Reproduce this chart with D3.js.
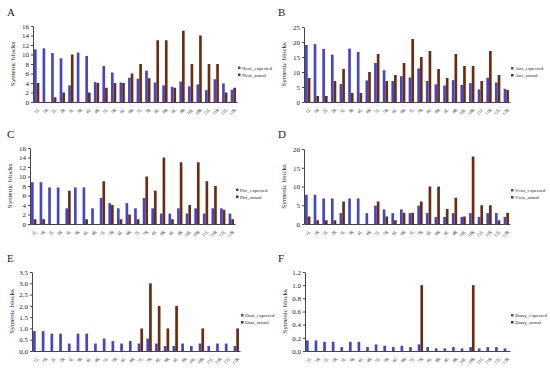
<!DOCTYPE html>
<html>
<head>
<meta charset="utf-8">
<script src="https://cdn.jsdelivr.net/npm/d3@7"></script>
<style>
  body { margin: 0; background: #fff; }
  text { font-family: "Liberation Serif", "Times New Roman", serif; fill: #222; }
</style>
</head>
<body>
<div id="chart"></div>
<script>
const categories = ['1L','1R','2L','2R','3L','3R','4L','4R','5L','5R','6L','6R',
  '7L','7R','8L','8R','9L','9R','10L','10R','11L','11R','12L','12R']

const ncolExpected = [11.1,11.3,10.3,9.2,3.5,10.4,9.7,4.2,7.6,6.2,4.1,5.1,4.9,6.6,4.1,3.5,3.2,4.3,3.3,3.7,2.5,4.8,3.9,2.6]
const ncolActual = [4,0,1,2,10,0,2,4,3,4,4,6,8,5,13,13,3,15,8,14,8,8,2,3]
const ncolTicks = [0,2,4,6,8,10,12,14,16]

const atriExpected = [19,19.3,17.7,15.8,6,17.8,16.7,7.2,13,10.6,7,8.6,8.2,11.2,7,5.9,5.5,7.3,5.7,6.3,4.2,8.1,6.5,4.4]
const atriActual = [8,2,2,7,11,3,3,10,16,7,9,13,21,15,17,11,8,16,12,12,7,17,9,4]
const atriTicks = [0,5,10,15,20,25]

const ptriExpected = [8.8,8.8,7.7,7.7,3.3,7.7,7.7,3.3,5.5,4.4,3.3,4.4,3.3,5.5,3.3,2.2,2.2,3.3,2.2,3.3,2.2,3.3,3.3,2.2]
const ptriActual = [1,1,0,0,7,0,1,0,9,4,1,2,1,10,7,14,1,13,4,13,9,8,3,1]
const ptriTicks = [0,2,4,6,8,10,12,14,16]

const vvinExpected = [7.8,7.8,6.8,6.8,2.9,6.8,6.8,2.9,4.9,3.9,2.9,3.9,2.9,4.9,2.9,1.9,1.9,2.9,1.9,2.9,1.9,2.9,2.9,1.9]
const vvinActual = [2,1,1,1,6,0,0,0,6,2,1,3,3,6,10,10,4,7,2,18,5,5,1,3]
const vvinTicks = [0,5,10,15,20]

const osatExpected = [0.88,0.88,0.77,0.77,0.33,0.77,0.77,0.33,0.55,0.44,0.33,0.44,0.33,0.55,0.33,0.22,0.22,0.33,0.22,0.33,0.22,0.33,0.33,0.22]
const osatActual = [0,0,0,0,0,0,0,0,0,0,0,0,1,3,2,1,2,0,0,1,0,0,0,1]
const osatTicks = [0,0.5,1,1.5,2,2.5,3,3.5]

const zmayExpected = [0.16,0.16,0.14,0.14,0.06,0.14,0.14,0.06,0.1,0.08,0.06,0.08,0.06,0.1,0.06,0.04,0.04,0.06,0.04,0.06,0.04,0.06,0.06,0.04]
const zmayActual = [0,0,0,0,0,0,0,0,0,0,0,0,0,1,0,0,0,0,0,1,0,0,0,0]
const zmayTicks = [0,0.2,0.4,0.6,0.8,1,1.2]

const panels = [
  {letter:'A', name:'Ncol', exp:ncolExpected, act:ncolActual, ticks:ncolTicks, x0:33, x1:237, y0:26, y1:102, lx:7, ly:16},
  {letter:'B', name:'Atri', exp:atriExpected, act:atriActual, ticks:atriTicks, x0:304, x1:510, y0:27, y1:102, lx:278, ly:16},
  {letter:'C', name:'Ptri', exp:ptriExpected, act:ptriActual, ticks:ptriTicks, x0:30, x1:235, y0:148, y1:224, lx:7, ly:138},
  {letter:'D', name:'Vvin', exp:vvinExpected, act:vvinActual, ticks:vvinTicks, x0:304, x1:510, y0:149, y1:224, lx:278, ly:138},
  {letter:'E', name:'Osat', exp:osatExpected, act:osatActual, ticks:osatTicks, x0:32, x1:240, y0:272, y1:351, lx:7, ly:262},
  {letter:'F', name:'Zmay', exp:zmayExpected, act:zmayActual, ticks:zmayTicks, x0:305, x1:510, y0:272, y1:351, lx:278, ly:262}
]

const colExp = '#4646c4', colAct = '#6b2c12'
const width = 550, height = 368

const svg = d3.select('#chart').append('svg')
  .attr('width', width).attr('height', height)

panels.forEach(p => {
  const g = svg.append('g')

  g.append('text').text(p.letter)
    .attr('x', p.lx).attr('y', p.ly)
    .style('font-size', '11px')

  const x = d3.scaleBand().domain(categories).range([p.x0, p.x1])
    .paddingInner(0.38).paddingOuter(0.12)
  const sub = d3.scaleBand().domain(['exp','act']).range([0, x.bandwidth()])
  const y = d3.scaleLinear().domain([0, d3.max(p.ticks)]).range([p.y1, p.y0])

  const rows = categories.map((c, i) => ({c, exp: p.exp[i], act: p.act[i]}))

  g.selectAll('rect.exp').data(rows).enter().append('rect')
    .attr('x', d => x(d.c) + sub('exp'))
    .attr('y', d => y(d.exp))
    .attr('width', sub.bandwidth())
    .attr('height', d => p.y1 - y(d.exp))
    .attr('fill', colExp)
  g.selectAll('rect.act').data(rows).enter().append('rect')
    .attr('x', d => x(d.c) + sub('act'))
    .attr('y', d => y(d.act))
    .attr('width', sub.bandwidth())
    .attr('height', d => p.y1 - y(d.act))
    .attr('fill', colAct)

  const yAxis = d3.axisLeft(y).tickValues(p.ticks).tickSize(2).tickSizeOuter(0)
  const ya = g.append('g').attr('transform', `translate(${p.x0},0)`).call(yAxis)
  ya.select('.domain').attr('stroke', '#444')
  ya.selectAll('.tick line').attr('stroke', '#444')
  ya.selectAll('text').style('font-size', '7px').attr('x', -4)

  const xAxis = d3.axisBottom(x).tickSize(0).tickSizeOuter(0)
  const xa = g.append('g').attr('transform', `translate(0,${p.y1})`).call(xAxis)
  xa.select('.domain').attr('stroke', '#444')
  xa.selectAll('text')
    .style('font-size', '4.5px')
    .attr('text-anchor', 'end')
    .attr('dy', 0)
    .attr('transform', 'translate(1,6) rotate(-45)')

  g.append('text').text('Syntenic blocks')
    .attr('transform', `translate(${p.x0 - 18},${(p.y0 + p.y1) / 2}) rotate(-90)`)
    .attr('text-anchor', 'middle')
    .style('font-size', '7px')

  const leg = g.append('g').attr('transform', `translate(${p.x1 + 1},${(p.y0 + p.y1) / 2 + 5})`)
  ;[[p.name + '_expected', colExp], [p.name + '_actual', colAct]].forEach((l, i) => {
    leg.append('rect').attr('x', 0).attr('y', i * 7 - 2.5).attr('width', 2.5).attr('height', 2.5).attr('fill', l[1])
    leg.append('text').text(l[0]).attr('x', 4).attr('y', i * 7 + 0.5).style('font-size', '5px')
  })
})
</script>
</body>
</html>
